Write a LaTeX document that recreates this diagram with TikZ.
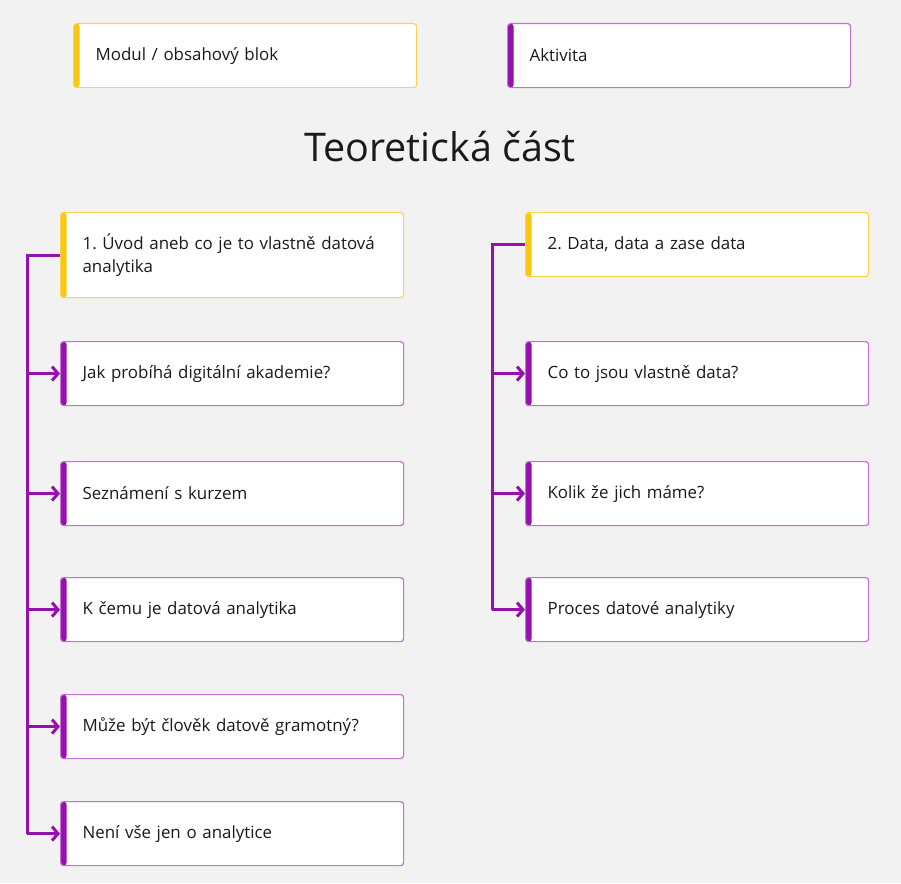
\documentclass[tikz,border=0pt]{standalone}
\usepackage{fontspec}
\setmainfont{Open Sans}
\usetikzlibrary{arrows.meta}
\definecolor{bg}{HTML}{F2F2F2}
\definecolor{yel}{HTML}{FAC710}
\definecolor{yelb}{HTML}{FAD450}
\definecolor{pur}{HTML}{9510AC}
\definecolor{purb}{HTML}{C46FD4}
\definecolor{txt}{HTML}{1A1A1A}
\tikzset{
  card/.style={anchor=north west, draw=#1b, fill=white, rounded corners=3pt,
    line width=1.2pt, minimum width=343pt, minimum height=64pt,
    text width=299pt, inner xsep=22pt, align=left, text=txt,
    font=\fontsize{16.9pt}{23pt}\selectfont,
    path picture={\fill[#1] (path picture bounding box.south west) rectangle ([xshift=6pt]path picture bounding box.north west);}},
  conn/.style={draw=pur, line width=3pt},
  arr/.style={conn, -{Straight Barb[length=6pt,width=14pt,line width=3pt]}},
}
\begin{document}
\frenchspacing
\begin{tikzpicture}[x=1pt,y=-1pt]
\fill[bg] (0,0) rectangle (901,883);
\useasboundingbox (0,0) rectangle (901,883);
% legend
\node[card=yel] (leg1) at (73,23) {Modul / obsahový blok};
\node[card=pur] (leg2) at (507,23) {Aktivita};
% title
\node[text=txt, font=\fontsize{39.5pt}{44pt}\selectfont] (title) at (440,147) {Teoretická část};
% left column
\node[card=yel, minimum height=85pt] (m1) at (60,212) {1. Úvod aneb co je to vlastně datová\\analytika};
\node[card=pur] (a1) at (60,341) {Jak probíhá digitální akademie?};
\node[card=pur] (a2) at (60,461) {Seznámení s kurzem};
\node[card=pur] (a3) at (60,577) {K čemu je datová analytika};
\node[card=pur] (a4) at (60,694) {Může být člověk datově gramotný?};
\node[card=pur] (a5) at (60,801) {Není vše jen o analytice};
% right column
\node[card=yel] (m2) at (525,212) {2. Data, data a zase data};
\node[card=pur] (b1) at (525,341) {Co to jsou vlastně data?};
\node[card=pur] (b2) at (525,461) {Kolik že jich máme?};
\node[card=pur] (b3) at (525,577) {Proces datové analytiky};
% trunks
\coordinate (tl) at (27,0);
\coordinate (tr) at (492,0);
\draw[conn, line join=miter] (m1.west) -- (m1.west -| tl) -- (a5.west -| tl);
\foreach \n in {a1,a2,a3,a4,a5} \draw[arr] (\n.west -| tl) -- (\n.west);
\draw[conn, line join=miter] (m2.west) -- (m2.west -| tr) -- (b3.west -| tr);
\foreach \n in {b1,b2,b3} \draw[arr] (\n.west -| tr) -- (\n.west);
\end{tikzpicture}
\end{document}
